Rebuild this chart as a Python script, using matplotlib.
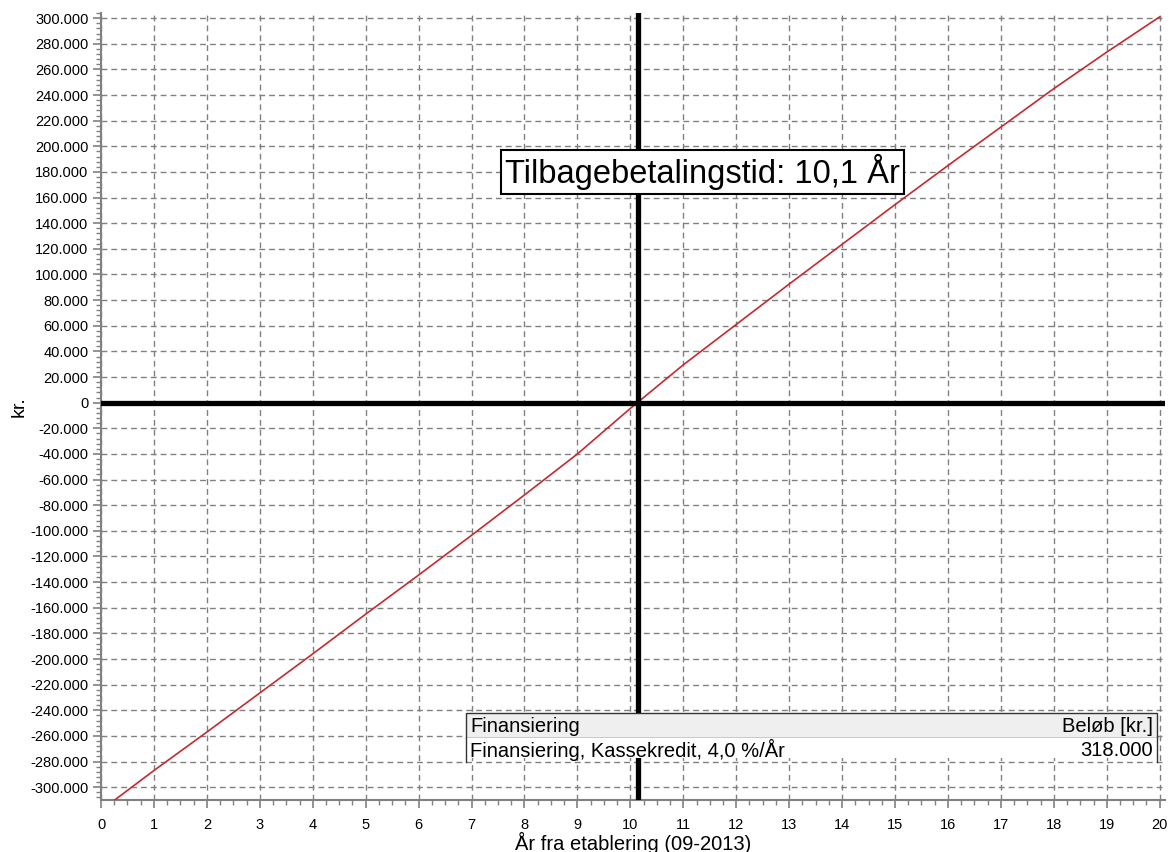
import matplotlib
matplotlib.use("Agg")
import matplotlib.pyplot as plt
from matplotlib.patches import Rectangle
from matplotlib.lines import Line2D
from matplotlib.ticker import MultipleLocator, FuncFormatter

plt.rcParams['font.family'] = ['Liberation Sans', 'DejaVu Sans']

# akkumuleret pengestroem pr. aar
years = [0, 1, 2, 3, 4, 5, 6, 7, 8, 9, 10,
         11, 12, 13, 14, 15, 16, 17, 18, 19, 20]
balance = [-318000, -287000, -257000, -226500, -196000, -165000, -134500,
           -103500, -72000, -40000, -4500, 29500, 61000, 92500, 123500,
           154500, 185000, 215000, 245000, 273500, 301000]

payback_year = 10.15
payback_text = "Tilbagebetalingstid: 10,1 År"

table_header = ["Finansiering", "Beløb [kr.]"]
table_row = ["Finansiering, Kassekredit, 4,0 %/År", "318.000"]

W, H = 1173, 852
fig = plt.figure(figsize=(W / 100, H / 100), dpi=100)
fig.patch.set_facecolor("white")


def fx(x):
    return x / W


def fy(y):
    return 1 - y / H


ax = fig.add_axes([fx(101), fy(800), fx(1165) - fx(101), fy(13) - fy(800)])

ax.plot(years, balance, color="#c42a2f", lw=1.2, zorder=3)

ax.axhline(0, color="black", lw=3.8, zorder=4)
ax.axvline(payback_year, color="black", lw=3.8, zorder=4)

ax.set_xlim(0, 20.1)
ax.set_ylim(-310000, 304000)

ax.xaxis.set_major_locator(MultipleLocator(1))
ax.xaxis.set_minor_locator(MultipleLocator(0.25))
ax.yaxis.set_major_locator(MultipleLocator(20000))
ax.yaxis.set_minor_locator(MultipleLocator(4000))
ax.yaxis.set_major_formatter(FuncFormatter(lambda v, p: f"{int(round(v)):,}".replace(",", ".")))

ax.grid(which="major", color="#808080", lw=1.0, linestyle=(0, (4.2, 2.9)), zorder=1)

for s in ["top", "right"]:
    ax.spines[s].set_visible(False)
for s in ["left", "bottom"]:
    ax.spines[s].set_color("#808080")
    ax.spines[s].set_linewidth(1.5)

ax.tick_params(which="major", length=6, width=1.2, color="#808080", labelsize=10.5, pad=3)
ax.tick_params(which="minor", length=3.5, width=1.0, color="#808080")
ax.tick_params(axis="x", pad=7)

ax.set_xlabel("År fra etablering (09-2013)", fontsize=14.5, labelpad=0)
ax.set_ylabel("kr.", fontsize=14, labelpad=2)

ax.text(11.36, 179700, payback_text, fontsize=23.5, ha="center", va="center", zorder=6,
        bbox=dict(boxstyle="square,pad=0.12", fc="white", ec="black", lw=1.5))

# tabel nederst
tl, tr, tt, tm, tb = 466, 1157, 713, 738, 762
fig.add_artist(Rectangle((fx(tl), fy(tm)), fx(tr) - fx(tl), fy(tt) - fy(tm),
                         transform=fig.transFigure, fc="#efefef", ec="#333333", lw=1.0, zorder=10))
fig.add_artist(Rectangle((fx(tl), fy(758)), fx(tr) - fx(tl), fy(tm) - fy(758),
                         transform=fig.transFigure, fc="white", ec="none", zorder=10))
for xx in (tl, tr):
    fig.add_artist(Line2D([fx(xx), fx(xx)], [fy(tm), fy(tb)], transform=fig.transFigure,
                          color="#333333", lw=1.0, zorder=11))
fs_tab = 14.5
fig.text(fx(470), fy(726), table_header[0], fontsize=fs_tab, ha="left", va="center", zorder=12)
fig.text(fx(1153), fy(726), table_header[1], fontsize=fs_tab, ha="right", va="center", zorder=12)
fig.text(fx(470), fy(750), table_row[0], fontsize=fs_tab, ha="left", va="center", zorder=12)
fig.text(fx(1153), fy(750), table_row[1], fontsize=fs_tab, ha="right", va="center", zorder=12)

fig.savefig("out.png", dpi=100)
